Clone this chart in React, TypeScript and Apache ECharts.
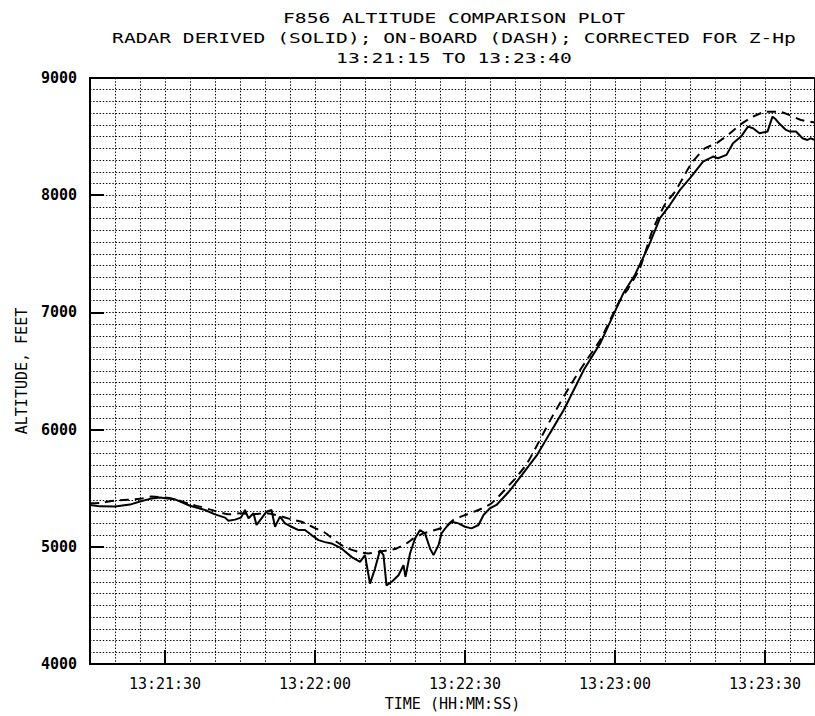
import React, { useEffect, useRef } from "react";
import * as echarts from "echarts";

// Time offsets are seconds after 13:21:15
const START_SEC = 13 * 3600 + 21 * 60 + 15;
const END_SEC = 13 * 3600 + 23 * 60 + 40;
const majorTimeTicks = ["13:21:30", "13:22:00", "13:22:30", "13:23:00", "13:23:30"];

const radarTimes = [
  0, 2, 5, 8, 10, 12, 14, 15, 17, 20, 23, 25, 27, 27.7, 29, 30.2, 31, 31.7, 32.7, 33.3, 34.3, 35.3, 36.3, 37, 38,
  39, 40.3, 41.7, 43, 44.3, 45.7, 47, 48.3, 50.3, 52.3, 54, 55, 56, 57, 58, 58.7, 59.3, 60.3, 61.7, 62.7, 63.1,
  64, 65, 66, 67, 68, 68.7, 69.7, 70.3, 71.3, 72.3, 73.7, 75, 76.3, 77.7, 78.7, 80, 81.3, 83.9, 86.5, 89.5, 92,
  94.8, 98.8, 102.1, 104.7, 106.7, 109, 111.7, 114, 116, 118, 120, 122.6, 124.6, 125.6, 127.3, 128.6, 130.2,
  131.6, 132.6, 133.9, 135.5, 136.5, 137.1, 137.8, 139.2, 140, 141.2, 142.5, 143.5, 144.1, 145,
];
const radarAltitude = [
  5357, 5345, 5343, 5360, 5386, 5409, 5420, 5414, 5405, 5350, 5314, 5277, 5249, 5222, 5232, 5249, 5314, 5243,
  5286, 5186, 5243, 5300, 5314, 5171, 5257, 5200, 5171, 5143, 5143, 5100, 5057, 5040, 5029, 4986, 4914, 4871,
  4929, 4686, 4814, 4971, 4929, 4671, 4700, 4757, 4843, 4743, 4943, 5071, 5143, 5114, 4986, 4929, 5014, 5114,
  5171, 5214, 5200, 5171, 5157, 5186, 5271, 5329, 5357, 5476, 5620, 5789, 5970, 6172, 6513, 6740, 6981, 7166,
  7322, 7563, 7804, 7918, 8045, 8145, 8287, 8330, 8315, 8344, 8443, 8500, 8585, 8571, 8528, 8543, 8670, 8650,
  8614, 8557, 8543, 8543, 8486, 8471, 8486, 8470,
];

const onboardTimes = [
  0, 2, 5, 10, 12.3, 15, 17, 20, 22, 25, 27.7, 30.2, 32.3, 35.3, 37.7, 40.3, 42.3, 43.7, 45, 47, 49.3, 51.3,
  53.7, 55.7, 57.7, 59.7, 61.3, 63.3, 64.7, 66.7, 69, 71, 72.7, 75, 77.7, 80.3, 84.9, 87.5, 92.5, 96.8, 99.4,
  102.1, 105.7, 107.7, 110, 112.5, 115, 117, 118.6, 120.3, 123, 125.3, 128, 130, 132.6, 135.2, 137.8, 139.8,
  142.2, 145,
];
const onboardAltitude = [
  5371, 5375, 5394, 5409, 5429, 5420, 5406, 5363, 5343, 5306, 5277, 5286, 5277, 5286, 5266, 5234, 5214, 5186,
  5160, 5120, 5043, 4991, 4957, 4943, 4957, 4971, 4986, 5029, 5071, 5114, 5143, 5171, 5229, 5271, 5314, 5371,
  5576, 5718, 6115, 6428, 6598, 6768, 7081, 7209, 7380, 7700, 7922, 8030, 8148, 8273, 8400, 8443, 8528, 8600,
  8670, 8713, 8713, 8685, 8642, 8620,
];

const titleLines = [
  "F856 ALTITUDE COMPARISON PLOT",
  "RADAR DERIVED (SOLID); ON-BOARD (DASH); CORRECTED FOR Z-Hp",
  "13:21:15 TO 13:23:40",
];

const hmsToSec = (s: string) => {
  const [h, m, sec] = s.split(":").map(Number);
  return h * 3600 + m * 60 + sec;
};
const secToHms = (v: number) => {
  const h = Math.floor(v / 3600);
  const m = Math.floor((v % 3600) / 60);
  const s = Math.round(v % 60);
  const p = (n: number) => String(n).padStart(2, "0");
  return `${h}:${p(m)}:${p(s)}`;
};

const FONT = "'DejaVu Sans Mono', monospace";

export default function App() {
  const ref = useRef<HTMLDivElement>(null);
  useEffect(() => {
    if (!ref.current) return;
    const chart = echarts.init(ref.current, null, { renderer: "svg" });
    const tickVals = majorTimeTicks.map(hmsToSec);
    const gridDots = { color: "#000", width: 1, type: [1.4, 1.8] as number[] };
    chart.setOption({
      animation: false,
      backgroundColor: "#fff",
      grid: {
        left: 90,
        top: 78,
        right: -4,
        bottom: 51,
        show: true,
        borderColor: "#000",
        borderWidth: 2,
        backgroundColor: "transparent",
      },
      graphic: titleLines.map((t, i) => ({
        type: "text",
        x: 454,
        y: 18 + i * 20,
        scaleX: 1.4,
        z: 10,
        style: {
          text: t,
          font: `14px ${FONT}`,
          fill: "#000",
          textAlign: "center",
          textVerticalAlign: "middle",
        },
      })),
      xAxis: [
        {
          type: "value",
          min: START_SEC,
          max: END_SEC,
          interval: 5,
          axisLine: { show: false },
          axisTick: { show: false },
          axisLabel: { show: false },
          splitLine: { show: true, lineStyle: gridDots },
        },
        {
          type: "value",
          min: START_SEC,
          max: END_SEC,
          position: "bottom",
          axisLine: { show: true, onZero: false, lineStyle: { color: "#000", width: 2 } },
          axisTick: {
            show: true,
            inside: true,
            length: 14,
            customValues: tickVals,
            lineStyle: { color: "#000", width: 2 },
          },
          axisLabel: {
            customValues: tickVals,
            formatter: (v: number) => secToHms(v),
            margin: 12,
            color: "#000",
            fontFamily: FONT,
            fontSize: 15,
          },
          splitLine: { show: false },
          name: "TIME (HH:MM:SS)",
          nameLocation: "middle",
          nameGap: 32,
          nameTextStyle: { color: "#000", fontFamily: FONT, fontSize: 15 },
        },
      ],
      yAxis: {
        type: "value",
        min: 4000,
        max: 9000,
        interval: 1000,
        axisLine: { show: true, lineStyle: { color: "#000", width: 2 } },
        axisTick: { show: true, inside: true, length: 14, lineStyle: { color: "#000", width: 2 } },
        minorTick: { show: false, splitNumber: 10 },
        minorSplitLine: { show: true, lineStyle: gridDots },
        splitLine: { show: true, lineStyle: gridDots },
        axisLabel: {
          margin: 13,
          color: "#000",
          fontFamily: FONT,
          fontSize: 15,
          fontWeight: "bold",
          formatter: (v: number) => String(v),
        },
        name: "ALTITUDE, FEET",
        nameLocation: "middle",
        nameGap: 60,
        nameTextStyle: { color: "#000", fontFamily: FONT, fontSize: 15 },
      },
      series: [
        {
          name: "Radar derived",
          type: "line",
          xAxisIndex: 0,
          showSymbol: false,
          data: radarTimes.map((t, i) => [START_SEC + t, radarAltitude[i]]),
          lineStyle: { color: "#000", width: 2 },
          z: 5,
        },
        {
          name: "On-board",
          type: "line",
          xAxisIndex: 0,
          showSymbol: false,
          smooth: 0.2,
          data: onboardTimes.map((t, i) => [START_SEC + t, onboardAltitude[i]]),
          lineStyle: { color: "#000", width: 2, type: [9, 6] },
          z: 5,
        },
      ],
    });
    return () => chart.dispose();
  }, []);
  return (
    <div
      ref={ref}
      style={{ position: "fixed", left: 0, top: 0, width: 815, height: 716, background: "#fff" }}
    />
  );
}
